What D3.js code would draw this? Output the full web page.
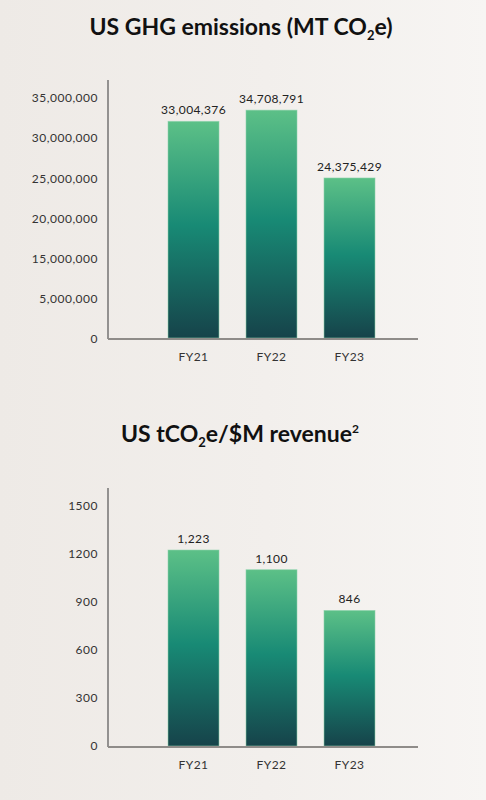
<!DOCTYPE html>
<html>
<head>
  <script src="https://cdnjs.cloudflare.com/ajax/libs/d3/7.8.5/d3.min.js"></script>
  <style>
    html, body { margin: 0; padding: 0; }
    body {
      width: 486px; height: 800px; overflow: hidden;
      background: linear-gradient(90deg, #eeeae6 0%, #f2efec 55%, #f7f5f3 100%);
      font-family: Lato, "Open Sans", sans-serif;
    }
    .title { font-size: 23px; font-weight: 700; fill: #111; }
    .tick-label { font-size: 12px; fill: #333; letter-spacing: 0.5px; }
    .val-label { font-size: 12px; fill: #222; letter-spacing: 0.4px; }
  </style>
</head>
<body>
  <svg id="chart" width="486" height="800"></svg>
  <script>
var years = ["FY21", "FY22", "FY23"];

// chart 1: US GHG emissions
var ghgValues = [33004376, 34708791, 24375429];
var ghgLabels = ["33,004,376", "34,708,791", "24,375,429"];
var ghgTicks = ["35,000,000", "30,000,000", "25,000,000", "20,000,000", "15,000,000", "5,000,000", "0"];

// chart 2: intensity per $M revenue
var intValues = [1223, 1100, 846];
var intLabels = ["1,223", "1,100", "846"];
var intTicks = [0, 300, 600, 900, 1200, 1500];

var svg = d3.select("#chart");

var defs = svg.append("defs");
var grad = defs.append("linearGradient")
  .attr("id", "barGrad")
  .attr("x1", 0).attr("y1", 0).attr("x2", 0).attr("y2", 1);
grad.append("stop").attr("offset", "0%").attr("stop-color", "#5cc087");
grad.append("stop").attr("offset", "48%").attr("stop-color", "#188a75");
grad.append("stop").attr("offset", "100%").attr("stop-color", "#16434a");

var x = d3.scaleBand()
  .domain(years)
  .range([168, 375])
  .paddingInner(0.346)
  .paddingOuter(0);

function drawBars(g, y, values, labels, base) {
  g.selectAll("rect.bar")
    .data(values)
    .enter()
    .append("rect")
    .attr("class", "bar")
    .attr("x", (d, i) => x(years[i]))
    .attr("width", x.bandwidth())
    .attr("y", d => y(d))
    .attr("height", d => base - y(d))
    .style("fill", "url(#barGrad)")
    .style("stroke", "#8fd3ad")
    .style("stroke-width", "0.8px")
    .style("stroke-opacity", 0.7);

  g.selectAll("text.val-label")
    .data(values)
    .enter()
    .append("text")
    .attr("class", "val-label")
    .attr("x", (d, i) => x(years[i]) + x.bandwidth() / 2)
    .attr("y", d => y(d) - 7)
    .attr("text-anchor", "middle")
    .text((d, i) => labels[i]);

  g.selectAll("text.cat")
    .data(years)
    .enter()
    .append("text")
    .attr("class", "tick-label")
    .attr("x", d => x(d) + x.bandwidth() / 2)
    .attr("y", base + 23)
    .attr("text-anchor", "middle")
    .text(d => d);

  // axes lines
  g.append("line")
    .attr("x1", 108).attr("x2", 108)
    .attr("y1", y.range()[1]).attr("y2", base + 1)
    .style("stroke", "#555").style("stroke-width", "1.2px");
  g.append("line")
    .attr("x1", 108).attr("x2", 418)
    .attr("y1", base + 1).attr("y2", base + 1)
    .style("stroke", "#8f8c89").style("stroke-width", "2px");
}

// ---- chart 1 ----
var g1 = svg.append("g");
var t1 = g1.append("text")
  .attr("class", "title")
  .attr("x", 241).attr("y", 35)
  .attr("text-anchor", "middle");
t1.append("tspan").text("US GHG emissions (MT CO");
t1.append("tspan").attr("dy", 5).style("font-size", "13px").text("2");
t1.append("tspan").attr("dy", -5).text("e)");

var y1 = d3.scaleLinear().domain([0, 39300000]).range([338, 80]);
// the printed tick labels are evenly spaced (10,000,000 is missing in the source)
var y1Ticks = d3.scalePoint().domain(ghgTicks).range([98, 339]);

g1.selectAll("text.yt")
  .data(ghgTicks)
  .enter()
  .append("text")
  .attr("class", "tick-label yt")
  .attr("x", 98)
  .attr("y", d => y1Ticks(d))
  .attr("dy", "0.35em")
  .attr("text-anchor", "end")
  .text(d => d);

drawBars(g1, y1, ghgValues, ghgLabels, 338);

// ---- chart 2 ----
var g2 = svg.append("g");
var t2 = g2.append("text")
  .attr("class", "title")
  .attr("x", 240).attr("y", 442)
  .attr("text-anchor", "middle");
t2.append("tspan").text("US tCO");
t2.append("tspan").attr("dy", 5).style("font-size", "13px").text("2");
t2.append("tspan").attr("dy", -5).text("e/$M revenue");
t2.append("tspan").attr("dy", -9).style("font-size", "12px").text("2");

var y2 = d3.scaleLinear().domain([0, 1610]).range([746, 488]);

g2.selectAll("text.yt")
  .data(intTicks)
  .enter()
  .append("text")
  .attr("class", "tick-label yt")
  .attr("x", 98)
  .attr("y", d => y2(d))
  .attr("dy", "0.35em")
  .attr("text-anchor", "end")
  .text(d => d);

drawBars(g2, y2, intValues, intLabels, 746);
  </script>
</body>
</html>
